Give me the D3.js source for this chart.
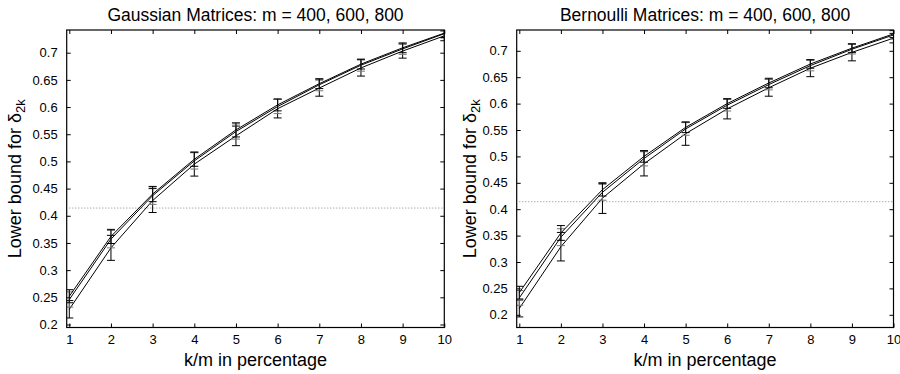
<!DOCTYPE html>
<html>
<head>
<meta charset="utf-8">
<script src="https://cdn.jsdelivr.net/npm/d3@7"></script>
<style>
  body { margin: 0; background: #fff; }
  svg { font-family: "Liberation Sans", Arial, sans-serif; }
</style>
</head>
<body>
<svg width="900" height="374"></svg>
<script>
// k/m in percentage
const kPercent = [1, 2, 3, 4, 5, 6, 7, 8, 9, 10];
const yTicks = [0.2, 0.25, 0.3, 0.35, 0.4, 0.45, 0.5, 0.55, 0.6, 0.65, 0.7];
const threshold = 0.4142; // sqrt(2) - 1

// Gaussian matrices, three values of m
const gaussM800 = [0.252, 0.362, 0.440, 0.504, 0.558, 0.604, 0.643, 0.679, 0.709, 0.736];
const gaussM800Err = [0.012, 0.013, 0.014, 0.013, 0.013, 0.011, 0.009, 0.009, 0.009, 0.008];
const gaussM600 = [0.246, 0.357, 0.437, 0.501, 0.555, 0.601, 0.641, 0.677, 0.707, 0.735];
const gaussM600Err = [0.014, 0.016, 0.016, 0.015, 0.014, 0.013, 0.011, 0.011, 0.010, 0.008];
const gaussM400 = [0.228, 0.341, 0.428, 0.495, 0.547, 0.597, 0.635, 0.672, 0.703, 0.731];
const gaussM400Err = [0.016, 0.023, 0.022, 0.022, 0.018, 0.017, 0.015, 0.015, 0.013, 0.009];

// Bernoulli matrices
const bernM800 = [0.242, 0.355, 0.437, 0.500, 0.555, 0.600, 0.639, 0.675, 0.705, 0.732];
const bernM800Err = [0.012, 0.014, 0.012, 0.011, 0.010, 0.009, 0.009, 0.008, 0.008, 0.007];
const bernM600 = [0.232, 0.347, 0.432, 0.496, 0.552, 0.597, 0.636, 0.672, 0.703, 0.730];
const bernM600Err = [0.014, 0.016, 0.015, 0.014, 0.012, 0.011, 0.010, 0.010, 0.009, 0.008];
const bernM400 = [0.212, 0.329, 0.421, 0.486, 0.543, 0.590, 0.630, 0.667, 0.697, 0.724];
const bernM400Err = [0.016, 0.027, 0.029, 0.023, 0.022, 0.019, 0.016, 0.016, 0.016, 0.009];

const svg = d3.select('svg');

const panels = [
  {
    id: 'g', title: 'Gaussian Matrices: m = 400, 600, 800',
    left: 66.7, right: 444.3, top: 30, bottom: 327.5,
    xr: [69.3, 444.3], y02: 324.5, y07: 52.7, ylabX: 21,
    series: [
      { v: gaussM400, e: gaussM400Err, c: '#000' },
      { v: gaussM600, e: gaussM600Err, c: '#777' },
      { v: gaussM800, e: gaussM800Err, c: '#000' }
    ]
  },
  {
    id: 'b', title: 'Bernoulli Matrices: m = 400, 600, 800',
    left: 516.7, right: 893.5, top: 30, bottom: 327.5,
    xr: [519.3, 893.5], y02: 314.8, y07: 50.8, ylabX: 476,
    series: [
      { v: bernM400, e: bernM400Err, c: '#000' },
      { v: bernM600, e: bernM600Err, c: '#777' },
      { v: bernM800, e: bernM800Err, c: '#000' }
    ]
  }
];

panels.forEach(p => {
  const x = d3.scaleLinear().domain([1, 10]).range(p.xr);
  const y = d3.scaleLinear().domain([0.2, 0.7]).range([p.y02, p.y07]);
  const g = svg.append('g');

  g.append('clipPath').attr('id', 'clip-' + p.id)
    .append('rect')
    .attr('x', p.left).attr('y', p.top)
    .attr('width', p.right - p.left).attr('height', p.bottom - p.top);

  const plot = g.append('g').attr('clip-path', `url(#clip-${p.id})`);

  // dotted threshold
  plot.append('line')
    .attr('x1', x(1)).attr('x2', x(10))
    .attr('y1', y(threshold)).attr('y2', y(threshold))
    .attr('stroke', '#888').attr('stroke-width', 1)
    .attr('stroke-dasharray', '1,2');

  const line = d3.line().x((d, i) => x(kPercent[i])).y(d => y(d));

  p.series.forEach(s => {
    plot.append('path')
      .datum(s.v)
      .attr('d', line)
      .attr('fill', 'none')
      .attr('stroke', '#000')
      .attr('stroke-width', 1);

    const bars = plot.append('g').selectAll('g')
      .data(s.v)
      .enter().append('g')
      .attr('stroke', s.c)
      .attr('stroke-width', 1);
    bars.append('line')
      .attr('x1', (d, i) => x(kPercent[i])).attr('x2', (d, i) => x(kPercent[i]))
      .attr('y1', (d, i) => y(d - s.e[i])).attr('y2', (d, i) => y(d + s.e[i]));
    bars.append('line')
      .attr('x1', (d, i) => x(kPercent[i]) - 4).attr('x2', (d, i) => x(kPercent[i]) + 4)
      .attr('y1', (d, i) => y(d + s.e[i])).attr('y2', (d, i) => y(d + s.e[i]));
    bars.append('line')
      .attr('x1', (d, i) => x(kPercent[i]) - 4).attr('x2', (d, i) => x(kPercent[i]) + 4)
      .attr('y1', (d, i) => y(d - s.e[i])).attr('y2', (d, i) => y(d - s.e[i]));
  });

  // axes with inward ticks on all sides
  const ax = g.append('g');
  ax.append('g')
    .attr('transform', `translate(0,${p.bottom})`)
    .call(d3.axisBottom(x).tickValues(kPercent).tickSize(-4).tickPadding(7).tickFormat(d3.format('d')));
  ax.append('g')
    .attr('transform', `translate(0,${p.top})`)
    .call(d3.axisTop(x).tickValues(kPercent).tickSize(-4).tickFormat(''));
  ax.append('g')
    .attr('transform', `translate(${p.left},0)`)
    .call(d3.axisLeft(y).tickValues(yTicks).tickSize(-4).tickPadding(9).tickFormat(d => String(d)));
  ax.append('g')
    .attr('transform', `translate(${p.right},0)`)
    .call(d3.axisRight(y).tickValues(yTicks).tickSize(-4).tickFormat(''));
  ax.selectAll('.domain').remove();
  ax.selectAll('text')
    .attr('fill', '#000')
    .style('font-size', '13px')
    .style('font-family', '"Liberation Sans", Arial, sans-serif');

  g.append('rect')
    .attr('x', p.left).attr('y', p.top)
    .attr('width', p.right - p.left).attr('height', p.bottom - p.top)
    .attr('fill', 'none').attr('stroke', '#000').attr('stroke-width', 1.2);

  // title and labels
  g.append('text')
    .attr('x', (p.left + p.right) / 2).attr('y', 21)
    .attr('text-anchor', 'middle').attr('font-size', 17.5)
    .text(p.title);

  g.append('text')
    .attr('x', (p.left + p.right) / 2).attr('y', 366)
    .attr('text-anchor', 'middle').attr('font-size', 18)
    .text('k/m in percentage');

  const yl = g.append('text')
    .attr('transform', `translate(${p.ylabX},${(p.top + p.bottom) / 2}) rotate(-90)`)
    .attr('text-anchor', 'middle').attr('font-size', 18);
  yl.append('tspan').text('Lower bound for δ');
  yl.append('tspan').attr('font-size', 13).attr('dy', 4).text('2k');
});
</script>
</body>
</html>
